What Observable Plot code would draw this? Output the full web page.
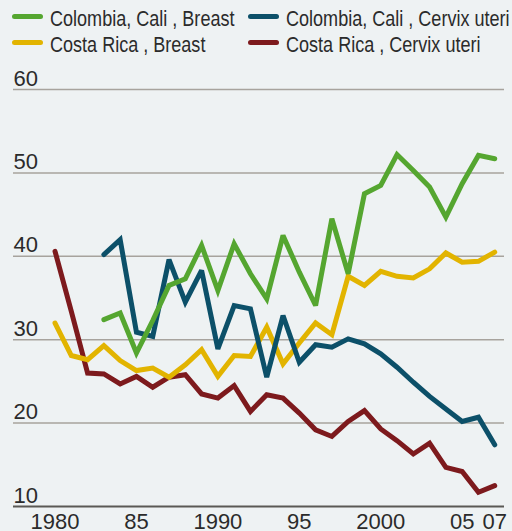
<!DOCTYPE html>
<html>
<head>
<meta charset="utf-8">
<script src="https://cdn.jsdelivr.net/npm/d3@7"></script>
<script src="https://cdn.jsdelivr.net/npm/@observablehq/plot@0.6"></script>
<style>
  html, body { margin: 0; padding: 0; background: #eef2f3; }
  body { width: 512px; height: 531px; overflow: hidden; font-family: "Liberation Sans", Arial, sans-serif; color: #2b2b2b; }
  #legend { position: relative; height: 55px; }
  .item { position: absolute; font-size: 22px; line-height: 27px; white-space: nowrap; }
  .sw { position: absolute; width: 31px; height: 5px; border-radius: 3px; top: 9px; left: 0; }
  .lbl { position: absolute; left: 38px; top: 0; display: inline-block; transform: scaleX(0.82); transform-origin: 0 50%; }
  svg text.narrow-c { transform-box: fill-box; transform-origin: 50% 50%; transform: scaleX(0.82); }
  svg text.narrow-l { transform-box: fill-box; transform-origin: 0% 50%; transform: scaleX(0.82); }
</style>
</head>
<body>
<div id="legend"></div>
<div id="chart"></div>
<script>
const seriesNames = ["Colombia, Cali , Breast", "Colombia, Cali , Cervix uteri", "Costa Rica , Breast", "Costa Rica , Cervix uteri"];
const seriesColors = ["#55a630", "#0c5069", "#e2b400", "#7d1a1d"];

const yearsCR = d3.range(1980, 2008);
const yearsCol = d3.range(1983, 2008);

const crCervix = [40.6, 33.4, 26.0, 25.9, 24.7, 25.6, 24.3, 25.5, 25.8, 23.5, 23.0, 24.5, 21.4, 23.4, 23.0, 21.2, 19.2, 18.4, 20.2, 21.5, 19.3, 17.9, 16.3, 17.6, 14.7, 14.2, 11.7, 12.5];
const crBreast = [32.0, 28.1, 27.6, 29.3, 27.5, 26.3, 26.6, 25.5, 27.0, 28.8, 25.6, 28.1, 28.0, 31.5, 27.1, 29.6, 32.0, 30.6, 37.6, 36.5, 38.2, 37.6, 37.4, 38.5, 40.4, 39.3, 39.4, 40.5];
const colBreast = [32.4, 33.2, 28.4, 32.3, 36.5, 37.3, 41.3, 35.9, 41.5, 37.9, 34.9, 42.5, 38.1, 34.1, 44.5, 37.9, 47.5, 48.5, 52.2, 50.3, 48.3, 44.7, 48.7, 52.1, 51.7];
const colCervix = [40.2, 42.0, 30.9, 30.4, 39.6, 34.5, 38.3, 28.9, 34.1, 33.7, 25.5, 32.9, 27.3, 29.4, 29.1, 30.1, 29.5, 28.3, 26.7, 24.9, 23.2, 21.7, 20.2, 20.7, 17.4];

const yTicks = [10, 20, 30, 40, 50, 60];
const gridTicks = [20, 30, 40, 50, 60];
const xTicks = [1980, 1985, 1990, 1995, 2000, 2005, 2007];
const xTickLabels = ["1980", "85", "1990", "95", "2000", "05", "07"];

// legend
const legend = document.getElementById("legend");
const legendPos = [[12, 5], [248, 5], [12, 31], [248, 31]];
seriesNames.forEach((name, i) => {
  const it = document.createElement("div");
  it.className = "item";
  it.style.left = legendPos[i][0] + "px";
  it.style.top = legendPos[i][1] + "px";
  it.innerHTML = `<span class="sw" style="background:${seriesColors[i]}"></span><span class="lbl">${name}</span>`;
  legend.appendChild(it);
});

const rows = [];
yearsCR.forEach((y, i) => rows.push({series: seriesNames[3], year: y, value: crCervix[i]}));
yearsCR.forEach((y, i) => rows.push({series: seriesNames[2], year: y, value: crBreast[i]}));
yearsCol.forEach((y, i) => rows.push({series: seriesNames[1], year: y, value: colCervix[i]}));
yearsCol.forEach((y, i) => rows.push({series: seriesNames[0], year: y, value: colBreast[i]}));

const font = '"Liberation Sans", Arial, sans-serif';

const chart = Plot.plot({
  width: 512,
  height: 476,
  marginTop: 34,
  marginBottom: 25,
  marginLeft: 13,
  marginRight: 8,
  style: {background: "transparent", fontFamily: font, fontSize: "22px", color: "#2b2b2b", overflow: "visible"},
  x: {domain: [1977.45, 2007.6], label: null, axis: null},
  y: {domain: [10, 60], label: null, axis: null},
  color: {domain: seriesNames, range: seriesColors},
  marks: [
    Plot.ruleY(gridTicks, {stroke: "#a7a39d", strokeWidth: 1.5}),
    Plot.ruleY([10], {stroke: "#5a5955", strokeWidth: 1.8}),
    Plot.text(yTicks, {y: d => d, text: d => String(d), frameAnchor: "left", textAnchor: "start", dy: -11, fill: "#2b2b2b", fontSize: 22, ariaLabel: "ytick"}),
    Plot.text(xTicks, {x: d => d, text: (d, i) => xTickLabels[i], frameAnchor: "bottom", lineAnchor: "top", dy: 7, fill: "#2b2b2b", fontSize: 22, ariaLabel: "xtick"}),
    Plot.line(rows, {x: "year", y: "value", z: "series", stroke: "series", strokeWidth: 5, strokeLinecap: "round", strokeLinejoin: "miter", strokeMiterlimit: 3})
  ]
});
chart.querySelectorAll('g[aria-label="ytick"] text').forEach(t => t.classList.add("narrow-l"));
chart.querySelectorAll('g[aria-label="xtick"] text').forEach(t => t.classList.add("narrow-c"));
document.getElementById("chart").appendChild(chart);
</script>
</body>
</html>
